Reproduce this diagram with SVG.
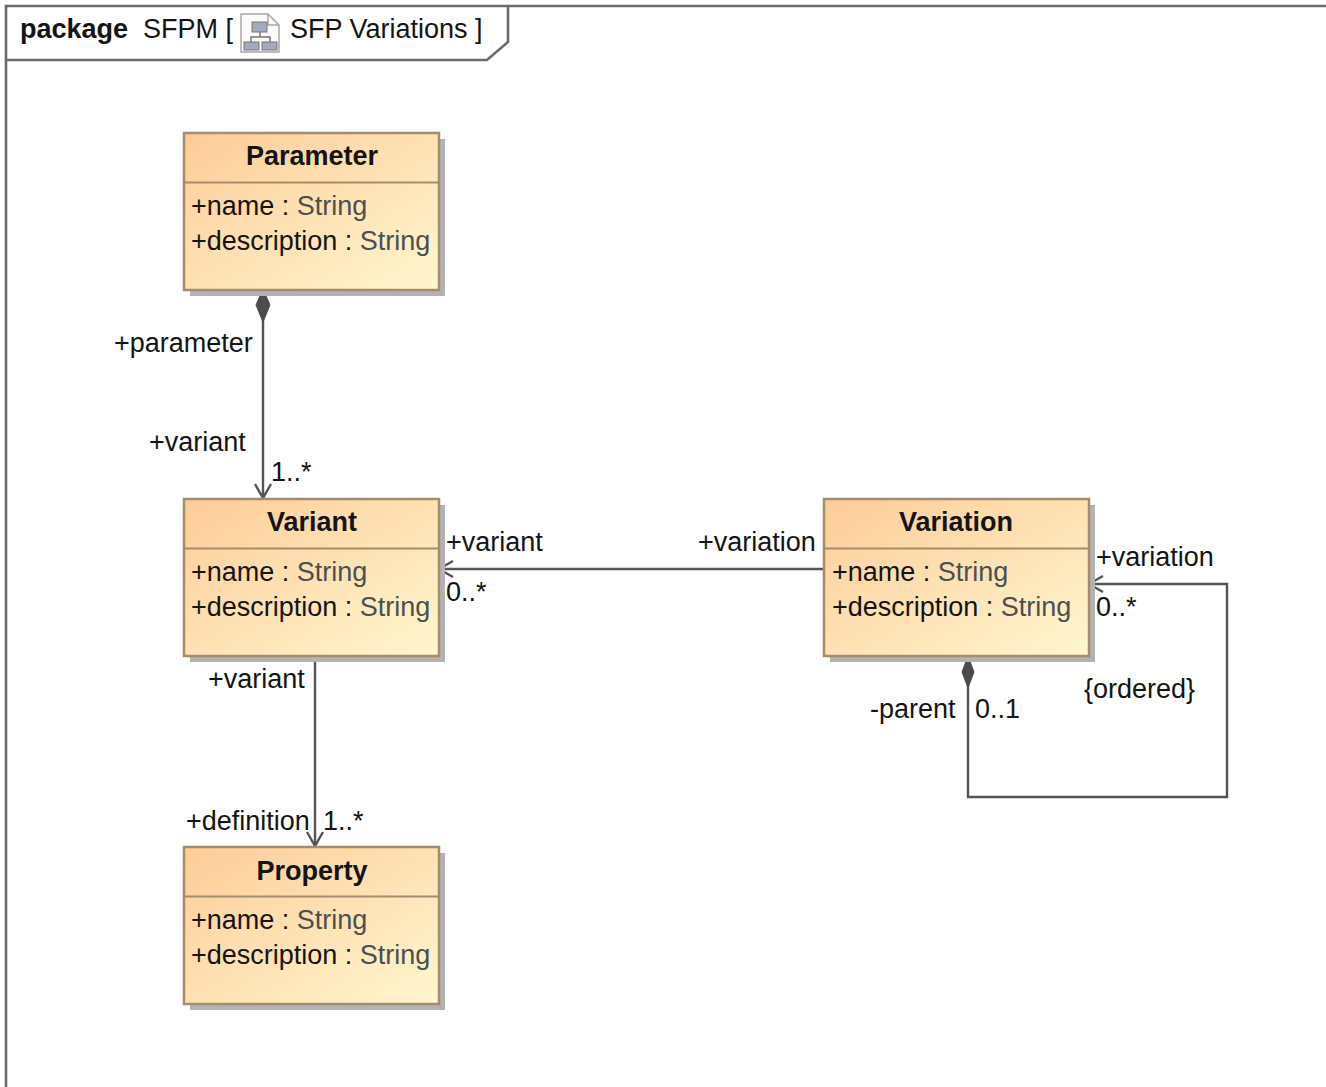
<svg xmlns="http://www.w3.org/2000/svg" xmlns:xlink="http://www.w3.org/1999/xlink" width="1326" height="1087" viewBox="0 0 1326 1087">
<style>
text{font-family:"Liberation Sans",Arial,sans-serif;font-size:27px;fill:#141414}
.t{font-weight:bold;text-anchor:middle}
.g{fill:#4a4f52}
.box{stroke:#a48c6c;stroke-width:2.5}
.sh{fill:#b3b3b3}
.div{stroke:#a48c6c;stroke-width:2;fill:none}
.c{stroke:#555;stroke-width:2.4;fill:none}
.f{stroke:#6b6b6b;stroke-width:2.6;fill:none}
.d{fill:#4c4c4c;stroke:#4c4c4c}
</style>
<defs>
<linearGradient id="grad" x1="0" y1="0" x2="1" y2="1">
<stop offset="0" stop-color="#fdcc98"/>
<stop offset="1" stop-color="#fff6cf"/>
</linearGradient>
</defs>
<rect width="1326" height="1087" fill="#fff"/>
<g id="frame">
<path class="f" d="M6 1087V6H1326M6 60H487L508 42V6"/>
<text x="20" y="38" style="font-weight:bold">package</text>
<text x="143" y="38">SFPM [</text>
<g id="diagram-icon">
<path d="M241 14H268L279 25V52H241Z" fill="#fafafa" stroke="#a8a8a8" stroke-width="1.5"/>
<path d="M268 14V25H279" fill="none" stroke="#a8a8a8" stroke-width="1.5"/>
<path d="M260 32V37M251 42V37H270V42" fill="none" stroke="#777" stroke-width="1.5"/>
<rect x="252" y="22" width="15" height="10" fill="#a3aabd" stroke="#777"/>
<rect x="244" y="42" width="15" height="8" fill="#a3aabd" stroke="#777"/>
<rect x="262" y="42" width="15" height="8" fill="#a3aabd" stroke="#777"/>
</g>
<text x="290" y="38">SFP Variations ]</text>
</g>
<g id="connectors">
<path class="c" d="M263 318V498M255 484L263 498L271 484"/>
<path class="d" d="M263 289L270 305L263 322L256 305Z"/>
<path class="c" d="M823 569H439M453 561L439 569L453 577"/>
<path class="c" d="M315 656V846M307 832L315 846L323 832"/>
<path class="c" d="M968 682V797H1227V584H1089M1103 576L1089 584L1103 592"/>
<path class="d" d="M968 656L974 672L968 688L962 672Z"/>
</g>
<g id="parameter">
<rect class="sh" x="190" y="139" width="255" height="157"/>
<rect class="box" x="184" y="133" width="255" height="157" fill="url(#grad)"/>
<path class="div" d="M184 182.500H439"/>
<text class="t" x="312" y="165">Parameter</text>
<text x="191" y="215">+name : <tspan class="g">String</tspan></text>
<text x="191" y="250">+description : <tspan class="g">String</tspan></text>
</g>
<g id="variant">
<rect class="sh" x="190" y="505" width="255" height="157"/>
<rect class="box" x="184" y="499" width="255" height="157" fill="url(#grad)"/>
<path class="div" d="M184 548.500H439"/>
<text class="t" x="312" y="531">Variant</text>
<text x="191" y="581">+name : <tspan class="g">String</tspan></text>
<text x="191" y="616">+description : <tspan class="g">String</tspan></text>
</g>
<g id="variation">
<rect class="sh" x="830" y="505" width="265" height="157"/>
<rect class="box" x="824" y="499" width="265" height="157" fill="url(#grad)"/>
<path class="div" d="M824 548.500H1089"/>
<text class="t" x="956" y="531">Variation</text>
<text x="832" y="581">+name : <tspan class="g">String</tspan></text>
<text x="832" y="616">+description : <tspan class="g">String</tspan></text>
</g>
<g id="property">
<rect class="sh" x="190" y="853" width="255" height="157"/>
<rect class="box" x="184" y="847" width="255" height="157" fill="url(#grad)"/>
<path class="div" d="M184 896.500H439"/>
<text class="t" x="312" y="880">Property</text>
<text x="191" y="929">+name : <tspan class="g">String</tspan></text>
<text x="191" y="964">+description : <tspan class="g">String</tspan></text>
</g>
<g id="labels">
<text x="114" y="352">+parameter</text>
<text x="149" y="451">+variant</text>
<text x="271" y="481">1..*</text>
<text x="446" y="551">+variant</text>
<text x="446" y="601">0..*</text>
<text x="698" y="551">+variation</text>
<text x="1096" y="566">+variation</text>
<text x="1096" y="616">0..*</text>
<text x="1084" y="698">{ordered}</text>
<text x="870" y="718">-parent</text>
<text x="975" y="718">0..1</text>
<text x="208" y="688">+variant</text>
<text x="186" y="830">+definition</text>
<text x="323" y="830">1..*</text>
</g>
</svg>
